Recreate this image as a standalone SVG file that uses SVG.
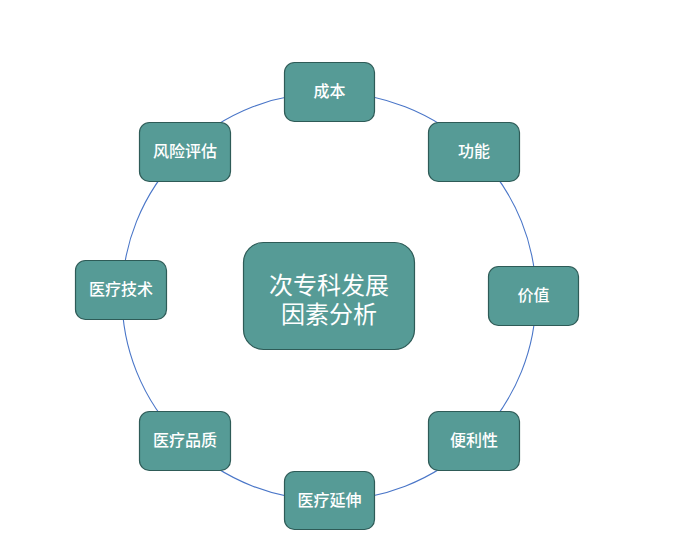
<svg xmlns="http://www.w3.org/2000/svg" width="683" height="559" viewBox="0 0 683 559">
<style>
.n rect{fill:#569B96;stroke:#2E5B57;stroke-width:1.2}
.n text{fill:#ffffff;font-family:"Noto Sans CJK SC","Noto Sans",sans-serif;font-size:16px;font-weight:500;text-anchor:middle;dominant-baseline:central}
.c text{font-size:24px;font-weight:normal}
.e{fill:none;stroke:#4A76C8;stroke-width:1.1}
</style>
<rect width="683" height="559" fill="#ffffff"/>
<g id="connectors">
<ellipse class="e" cx="329" cy="296.5" rx="207" ry="204"/>
</g>
<g id="center" class="n c">
<rect x="243.5" y="242.5" width="171" height="107" rx="20"/>
<text x="329" y="283"><tspan x="329" y="283">次专科发展</tspan><tspan x="329" y="312">因素分析</tspan></text>
</g>
<g id="n-chengben" class="n"><rect x="284.5" y="62.5" width="90" height="59" rx="10"/><text x="329.5" y="90">成本</text></g>
<g id="n-gongneng" class="n"><rect x="428.5" y="122.5" width="91" height="59" rx="10"/><text x="474" y="150">功能</text></g>
<g id="n-jiazhi" class="n"><rect x="488.5" y="266.5" width="90" height="59" rx="10"/><text x="533.5" y="294">价值</text></g>
<g id="n-bianlixing" class="n"><rect x="428.5" y="411.5" width="91" height="59" rx="10"/><text x="474" y="439">便利性</text></g>
<g id="n-yanshen" class="n"><rect x="284.5" y="471.5" width="90" height="58" rx="10"/><text x="329.5" y="499">医疗延伸</text></g>
<g id="n-pinzhi" class="n"><rect x="139.5" y="411.5" width="91" height="59" rx="10"/><text x="185" y="439">医疗品质</text></g>
<g id="n-jishu" class="n"><rect x="75.5" y="260.5" width="91" height="59" rx="10"/><text x="121" y="288">医疗技术</text></g>
<g id="n-fengxian" class="n"><rect x="139.5" y="122.5" width="91" height="59" rx="10"/><text x="185" y="150">风险评估</text></g>
</svg>
